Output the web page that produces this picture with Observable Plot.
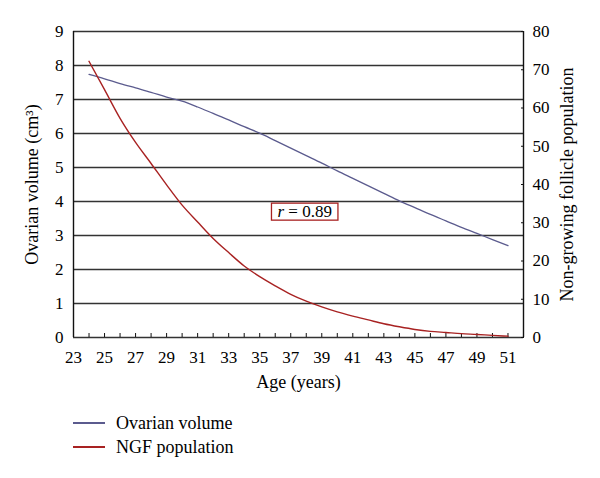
<!DOCTYPE html>
<html><head><meta charset="utf-8">
<script src="https://cdn.jsdelivr.net/npm/d3@7"></script>
<script src="https://cdn.jsdelivr.net/npm/@observablehq/plot@0.6"></script>
<style>
body{margin:0;background:#fff;font-family:"Liberation Serif",serif;}
#wrap{position:relative;width:600px;height:478px;background:#fff;}
.legend{position:absolute;left:73px;top:411px;font-size:18px;color:#000;}
.legend .row{display:flex;align-items:center;height:24px;}
.legend .sw{display:inline-block;width:32px;height:1.5px;margin-right:11px;}
svg text{font-family:"Liberation Serif",serif;}
</style></head><body><div id="wrap"></div>
<script>
const ages = [24,25,26,27,28,29,30,31,32,33,34,35,36,37,38,39,40,41,42,43,44,45,46,47,48,49,50,51];
const ovarianVolume = [7.74,7.61,7.47,7.34,7.21,7.07,6.95,6.78,6.59,6.40,6.20,6.01,5.79,5.57,5.35,5.13,4.90,4.68,4.46,4.24,4.02,3.82,3.62,3.43,3.24,3.06,2.88,2.70];
const ngfPopulation = [72.2,64.8,57.3,51.0,45.5,39.9,34.6,30.2,25.9,22.2,18.7,15.9,13.5,11.3,9.5,8.0,6.7,5.6,4.6,3.6,2.8,2.1,1.6,1.3,1.0,0.8,0.55,0.35];
const seriesNames = ["Ovarian volume","NGF population"];
const seriesColors = ["#5b5b8e","#a82222"];
const ageDomain = [23,52];
const leftTicks = [0,1,2,3,4,5,6,7,8,9];
const rightTicks = [0,10,20,30,40,50,60,70,80];
const xMinorTicks = d3.range(24,52);
const xLabelTicks = d3.range(23,52,2);
const annotation = [{age:37.9, value:3.7, label:"r = 0.89"}];
const leftMax = 9, rightMax = 80;
const k = leftMax/rightMax;

const chart = Plot.plot({
  width:600, height:400,
  marginLeft:73, marginRight:77, marginTop:31, marginBottom:63,
  style:{fontFamily:"Liberation Serif", fontSize:"17px", color:"black", background:"white"},
  x:{domain:ageDomain},
  y:{domain:[0,leftMax]},
  marks:[
    Plot.ruleY(leftTicks,{stroke:"#333",strokeWidth:1.4}),
    Plot.ruleX(ageDomain,{stroke:"#111",strokeWidth:1.4}),
    Plot.axisX(xMinorTicks,{tickSize:4,dy:-4,text:null,label:null,stroke:"#111"}),
    Plot.axisX(xLabelTicks,{tickSize:0,tickPadding:13,label:"Age (years)",labelAnchor:"center",labelArrow:"none",labelOffset:50}),
    Plot.axisY(leftTicks,{tickSize:0,tickPadding:10,label:"Ovarian volume (cm³)",labelAnchor:"center",labelArrow:"none",labelOffset:48}),
    Plot.axisY(rightTicks.map(v=>v*k),{anchor:"right",tickSize:3,dx:-3,text:null,label:null,stroke:"#111"}),
    Plot.axisY(rightTicks.map(v=>v*k),{anchor:"right",tickSize:0,tickPadding:9,tickFormat:d=>String(Math.round(d/k)),label:"Non-growing follicle population",labelAnchor:"center",labelArrow:"none",labelOffset:49}),
    Plot.line(ages,{x:d=>d,y:(d,i)=>ovarianVolume[i],stroke:seriesColors[0],strokeWidth:1.3,curve:"monotone-x"}),
    Plot.line(ages,{x:d=>d,y:(d,i)=>ngfPopulation[i]*k,stroke:seriesColors[1],strokeWidth:1.4,curve:"monotone-x"}),
    Plot.text(annotation,{x:"age",y:"value",text:"label",fill:"black"})
  ]
});
const wrap = document.getElementById("wrap");
wrap.appendChild(chart);

// larger axis titles
d3.select(chart).selectAll('g[aria-label$="axis label"] text').style("font-size","18px");

// italic r and red box round the annotation
d3.select(chart).selectAll("text").each(function(){
  if (this.textContent === annotation[0].label) {
    const t = d3.select(this);
    const parts = annotation[0].label.split(" ");
    t.text(null);
    t.append("tspan").attr("font-style","italic").text(parts[0]);
    t.append("tspan").text(" " + parts.slice(1).join(" "));
    const b = this.getBBox();
    d3.select(this.parentNode).insert("rect", () => this)
      .attr("transform", t.attr("transform"))
      .attr("x", b.x - 6).attr("y", b.y + 1).attr("width", b.width + 12).attr("height", b.height - 2)
      .attr("fill","white").attr("stroke", seriesColors[1]).attr("stroke-width",1.3);
  }
});

const legend = document.createElement("div");
legend.className = "legend";
seriesNames.forEach((n,i)=>{
  const row = document.createElement("div"); row.className = "row";
  const sw = document.createElement("span"); sw.className = "sw"; sw.style.background = seriesColors[i];
  row.appendChild(sw); row.appendChild(document.createTextNode(n));
  legend.appendChild(row);
});
wrap.appendChild(legend);
</script></body></html>
